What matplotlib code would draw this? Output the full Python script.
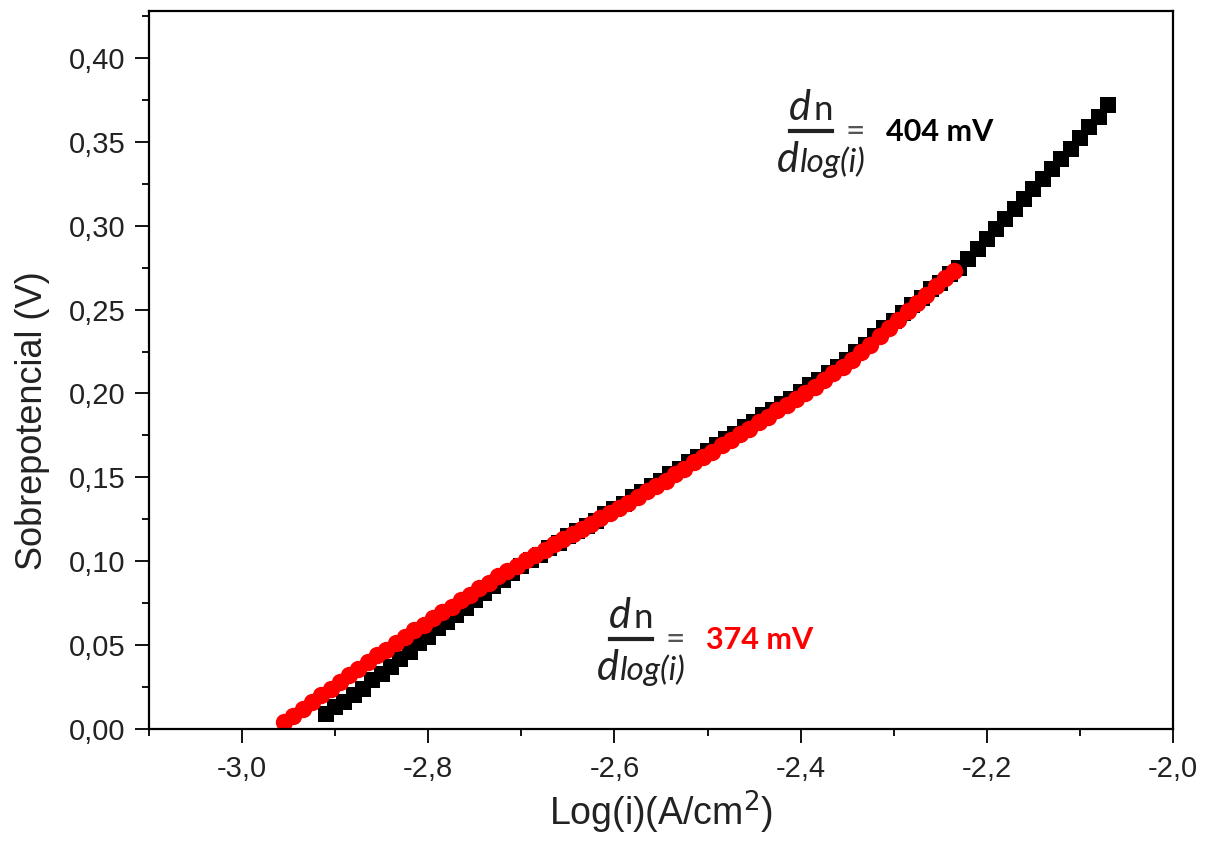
import numpy as np
import matplotlib
matplotlib.use('Agg')
import matplotlib.pyplot as plt
from matplotlib.ticker import MultipleLocator, FuncFormatter
from matplotlib.lines import Line2D

# black squares: series 1
log_i_black = [-2.91, -2.90, -2.89, -2.88, -2.87, -2.86, -2.85, -2.84, -2.83, -2.82,
               -2.81, -2.80, -2.79, -2.78, -2.77, -2.76, -2.75, -2.74, -2.73, -2.72,
               -2.71, -2.70, -2.69, -2.68, -2.67, -2.66, -2.65, -2.64, -2.63, -2.62,
               -2.61, -2.60, -2.59, -2.58, -2.57, -2.56, -2.55, -2.54, -2.53, -2.52,
               -2.51, -2.50, -2.49, -2.48, -2.47, -2.46, -2.45, -2.44, -2.43, -2.42,
               -2.41, -2.40, -2.39, -2.38, -2.37, -2.36, -2.35, -2.34, -2.33, -2.32,
               -2.31, -2.30, -2.29, -2.28, -2.27, -2.26, -2.25, -2.24, -2.23, -2.22,
               -2.21, -2.20, -2.19, -2.18, -2.17, -2.16, -2.15, -2.14, -2.13, -2.12,
               -2.11, -2.10, -2.09, -2.08, -2.07]
eta_black = [0.009, 0.013, 0.016, 0.020, 0.024, 0.029, 0.033, 0.037, 0.042, 0.046,
             0.051, 0.055, 0.060, 0.064, 0.068, 0.072, 0.077, 0.081, 0.085, 0.089,
             0.093, 0.097, 0.101, 0.104, 0.108, 0.111, 0.115, 0.118, 0.121, 0.124,
             0.128, 0.131, 0.134, 0.138, 0.141, 0.145, 0.148, 0.152, 0.155, 0.159,
             0.162, 0.166, 0.169, 0.173, 0.176, 0.180, 0.183, 0.187, 0.190, 0.194,
             0.197, 0.201, 0.205, 0.208, 0.212, 0.216, 0.220, 0.225, 0.229, 0.234,
             0.239, 0.243, 0.248, 0.253, 0.257, 0.262, 0.266, 0.271, 0.275, 0.280,
             0.286, 0.292, 0.298, 0.304, 0.310, 0.316, 0.322, 0.328, 0.334, 0.340,
             0.346, 0.352, 0.359, 0.365, 0.372]

# red circles: series 2
log_i_red = [-2.955, -2.945, -2.935, -2.925, -2.915, -2.905, -2.895, -2.885, -2.875, -2.865,
             -2.855, -2.845, -2.835, -2.825, -2.815, -2.805, -2.795, -2.785, -2.775, -2.765,
             -2.755, -2.745, -2.735, -2.725, -2.715, -2.705, -2.695, -2.685, -2.675, -2.665,
             -2.655, -2.645, -2.635, -2.625, -2.615, -2.605, -2.595, -2.585, -2.575, -2.565,
             -2.555, -2.545, -2.535, -2.525, -2.515, -2.505, -2.495, -2.485, -2.475, -2.465,
             -2.455, -2.445, -2.435, -2.425, -2.415, -2.405, -2.395, -2.385, -2.375, -2.365,
             -2.355, -2.345, -2.335, -2.325, -2.315, -2.305, -2.295, -2.285, -2.275, -2.265,
             -2.255, -2.245, -2.235]
eta_red = [0.004, 0.008, 0.012, 0.016, 0.020, 0.024, 0.028, 0.032, 0.036, 0.040,
           0.044, 0.047, 0.051, 0.055, 0.059, 0.062, 0.066, 0.070, 0.073, 0.077,
           0.080, 0.084, 0.087, 0.091, 0.094, 0.097, 0.101, 0.104, 0.107, 0.110,
           0.113, 0.116, 0.119, 0.122, 0.126, 0.129, 0.132, 0.135, 0.138, 0.142,
           0.145, 0.148, 0.152, 0.155, 0.159, 0.162, 0.165, 0.169, 0.172, 0.176,
           0.179, 0.183, 0.186, 0.190, 0.193, 0.197, 0.200, 0.204, 0.208, 0.212,
           0.216, 0.220, 0.225, 0.229, 0.234, 0.239, 0.244, 0.249, 0.254, 0.259,
           0.264, 0.269, 0.273]

slope_black = '404 mV'
slope_red = '374 mV'

W, H = 1211, 852
fig = plt.figure(figsize=(W / 100, H / 100), dpi=100)
ax = fig.add_axes([149 / W, 1 - 729 / H, (1173 - 149) / W, (729 - 11) / H])

ax.plot(log_i_black, eta_black, ls='none', marker='s', ms=11, color='black', mew=0)
ax.plot(log_i_red, eta_red, ls='none', marker='o', ms=12.5, color='#ff0000', mew=0)

ax.set_xlim(-3.1, -2.0)
ax.set_ylim(0.0, 0.428)
ax.xaxis.set_major_locator(MultipleLocator(0.2))
ax.xaxis.set_minor_locator(MultipleLocator(0.1))
ax.yaxis.set_major_locator(MultipleLocator(0.05))
ax.yaxis.set_minor_locator(MultipleLocator(0.025))
ax.xaxis.set_major_formatter(FuncFormatter(lambda v, p: ('%.1f' % v).replace('.', ',')))
ax.yaxis.set_major_formatter(FuncFormatter(lambda v, p: ('%.2f' % v).replace('.', ',')))

for s in ax.spines.values():
    s.set_linewidth(1.6)
ax.tick_params(which='both', direction='out', top=False, right=False, width=1.3,
               labelsize=21, colors='black')
ax.tick_params(which='major', length=10)
ax.tick_params(which='minor', length=5)
ax.tick_params(axis='x', pad=9)
ax.tick_params(axis='y', pad=7)
for lab in ax.get_xticklabels() + ax.get_yticklabels():
    lab.set_fontfamily('Liberation Sans')
    lab.set_color('#222222')

ax.set_xlabel('Log(i)(A/cm$^2$)', fontsize=27, family='Liberation Sans', labelpad=4, color='#222222')
ax.set_ylabel('Sobrepotencial (V)', fontsize=26, family='Liberation Sans', color='#222222')
ax.yaxis.set_label_coords(-0.097, 0.43)


def fx(px):
    return px / W


def fy(py):
    return 1 - py / H


def slope_label(x0, y0, value, color):
    # x0, y0: left edge and height of the fraction bar in pixels
    fam = 'Lato'
    ink = '#222222'
    fig.text(fx(x0 - 1), fy(y0 - 11), 'd', fontsize=30, style='italic', family=fam, color=ink)
    fig.text(fx(x0 + 24), fy(y0 - 11), 'n', fontsize=25, family=fam, color=ink)
    fig.add_artist(Line2D([fx(x0), fx(x0 + 42)], [fy(y0), fy(y0)], lw=3, color=ink))
    fig.text(fx(x0 - 13), fy(y0 + 41), 'd', fontsize=30, style='italic', family=fam, color=ink)
    fig.text(fx(x0 + 10), fy(y0 + 41), 'log(i)', fontsize=24, style='italic', family=fam, color=ink)
    fig.text(fx(x0 + 56), fy(y0 + 1), '=', fontsize=24, family=fam, color='#555555', va='center')
    fig.text(fx(x0 + 96), fy(y0 + 10), value, fontsize=22, weight='bold', family=fam, color=color)


slope_label(790, 131, slope_black, 'black')
slope_label(610, 639, slope_red, '#ff0000')

fig.savefig('out.png', dpi=100)
